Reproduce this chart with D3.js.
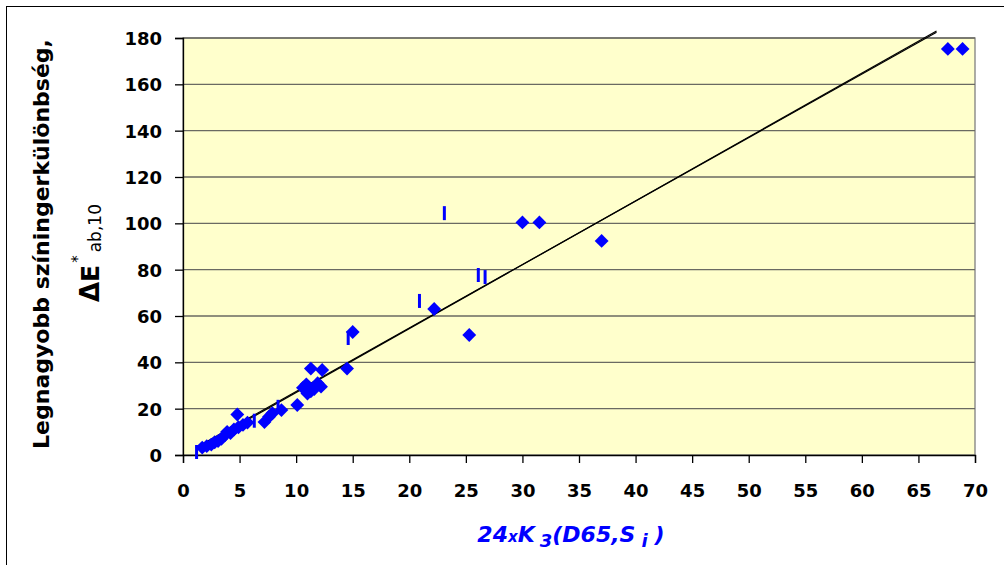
<!DOCTYPE html>
<html>
<head>
<meta charset="utf-8">
<script src="https://cdn.jsdelivr.net/npm/d3@7"></script>
<style>
  html, body { margin: 0; padding: 0; background: #fff; }
  svg { display: block; }
  text { font-family: "DejaVu Sans", Verdana, sans-serif; }
</style>
</head>
<body>
<svg id="chart" width="1004" height="565"></svg>
<script>
// Measured colour difference vs. 24 x K3(D65, Si)
const diamondX = [1.7, 2.1, 2.5, 2.8, 3.1, 3.4, 3.7, 3.9, 4.2, 4.5, 4.9, 5.3, 5.7, 4.8,
                  7.2, 7.6, 7.9, 8.7, 10.1,
                  10.6, 10.9, 11.0, 11.3, 11.6, 11.9, 12.2, 11.3, 12.3,
                  14.5, 15.0, 22.2, 25.3, 30.0, 31.5, 37.0, 67.6, 68.9];
const diamondY = [3.2, 3.8, 4.5, 5.5, 6.0, 7.0, 8.5, 10.0, 9.5, 11.0, 12.0, 13.0, 14.0, 17.5,
                  14.2, 16.5, 18.0, 19.4, 21.6,
                  29.0, 30.5, 26.5, 27.5, 28.5, 31.0, 29.5, 37.3, 36.7,
                  37.3, 53.1, 63.0, 51.8, 100.4, 100.4, 92.4, 175.3, 175.3];

// Second series drawn with a short vertical dash marker
const dashX = [1.2, 6.3, 8.4, 14.6, 20.9, 23.1, 26.1, 26.7];
const dashY = [1.3, 14.8, 20.8, 50.5, 66.5, 104.4, 77.7, 76.8];

// Fitted lines: slope, intercept and x range
const fitSlopes = [2.740, 2.757];
const fitIntercepts = [0.0, -0.6];
const fitRange = [1.2, 66.6];

const xTicks = d3.range(0, 71, 5);
const yTicks = d3.range(0, 181, 20);

const svg = d3.select("#chart");
const x = d3.scaleLinear().domain([0, 70]).range([183, 975]);
const y = d3.scaleLinear().domain([0, 180]).range([455, 38]);

// chart area frame (runs off the right and bottom)
svg.append("rect")
  .attr("x", 6.5).attr("y", 6.5).attr("width", 1010).attr("height", 600)
  .attr("fill", "#fff").attr("stroke", "#000").attr("stroke-width", 1);

// plot area
svg.append("rect")
  .attr("x", x(0)).attr("y", y(180))
  .attr("width", x(70) - x(0)).attr("height", y(0) - y(180))
  .attr("fill", "#FFFFCC").attr("stroke", "#808080").attr("stroke-width", 1.3);

// horizontal gridlines
svg.append("g").selectAll("line")
  .data(yTicks.filter(t => t > 0))
  .join("line")
  .attr("x1", x(0)).attr("x2", x(70))
  .attr("y1", d => y(d)).attr("y2", d => y(d))
  .attr("stroke", "#6a6a62").attr("stroke-width", 1.3);

// axes
const yAxis = d3.axisLeft(y).tickValues(yTicks).tickSize(8).tickPadding(13).tickFormat(d3.format("d"));
const xAxis = d3.axisBottom(x).tickValues(xTicks).tickSize(8).tickPadding(21).tickFormat(d3.format("d"));

const gy = svg.append("g").attr("transform", `translate(${x(0)},0)`).call(yAxis);
const gx = svg.append("g").attr("transform", `translate(0,${y(0)})`).call(xAxis);
[gx, gy].forEach(g => {
  g.select(".domain").attr("stroke", "#000").attr("stroke-width", 1.3);
  g.selectAll(".tick line").attr("stroke", "#000").attr("stroke-width", 1.3);
  g.selectAll(".tick text")
    .attr("fill", "#000")
    .style("font-family", "'DejaVu Sans', Verdana, sans-serif")
    .style("font-size", "18px")
    .style("font-weight", "bold");
});
gy.selectAll(".tick text").attr("dy", "0.36em");

// fitted lines
const fitLine = d3.line().x(d => x(d[0])).y(d => y(d[1]));
svg.append("g").selectAll("path")
  .data(fitSlopes.map((s, i) => fitRange.map(v => [v, s * v + fitIntercepts[i]])))
  .join("path")
  .attr("d", fitLine)
  .attr("fill", "none").attr("stroke", "#000").attr("stroke-width", 1.2);

// dash markers
svg.append("g").selectAll("line")
  .data(dashX.map((v, i) => [v, dashY[i]]))
  .join("line")
  .attr("x1", d => x(d[0])).attr("x2", d => x(d[0]))
  .attr("y1", d => y(d[1]) - 7).attr("y2", d => y(d[1]) + 7)
  .attr("stroke", "#0000FF").attr("stroke-width", 3);

// diamond markers
const diamond = d3.symbol().type(d3.symbolSquare).size(96);
svg.append("g").selectAll("path")
  .data(diamondX.map((v, i) => [v, diamondY[i]]))
  .join("path")
  .attr("d", diamond)
  .attr("transform", d => `translate(${x(d[0])},${y(d[1])}) rotate(45)`)
  .attr("fill", "#0000FF");

// y axis title
svg.append("text")
  .attr("transform", "translate(49,244) rotate(-90)")
  .attr("text-anchor", "middle")
  .style("font-size", "22px").style("font-weight", "bold").attr("fill", "#000")
  .text("Legnagyobb színingerkülönbség,");

const yt2 = svg.append("text")
  .attr("transform", "translate(99,302) rotate(-90)")
  .attr("text-anchor", "start")
  .attr("fill", "#000");
yt2.append("tspan").style("font-size", "26px").style("font-weight", "bold").text("Δ");
yt2.append("tspan").style("font-size", "25px").style("font-weight", "bold").text("E");
yt2.append("tspan").style("font-size", "15px").attr("dy", -16).attr("dx", 2).text("*");
yt2.append("tspan").style("font-size", "17px").attr("dy", 18).attr("dx", 3).text("ab,10");

// x axis title
const xt = svg.append("text")
  .attr("x", 571).attr("y", 542)
  .attr("text-anchor", "middle")
  .attr("fill", "#0000FF")
  .style("font-weight", "bold").style("font-style", "italic");
xt.append("tspan").style("font-size", "22px").text("24");
xt.append("tspan").style("font-size", "15px").text("x");
xt.append("tspan").style("font-size", "22px").text("K");
xt.append("tspan").style("font-size", "18px").attr("dx", 5).attr("dy", 5).text("3");
xt.append("tspan").style("font-size", "22px").attr("dy", -5).text("(D65,S");
xt.append("tspan").style("font-size", "18px").attr("dx", 6).attr("dy", 5).text("i");
xt.append("tspan").style("font-size", "22px").attr("dx", 7).attr("dy", -5).text(")");
</script>
</body>
</html>
